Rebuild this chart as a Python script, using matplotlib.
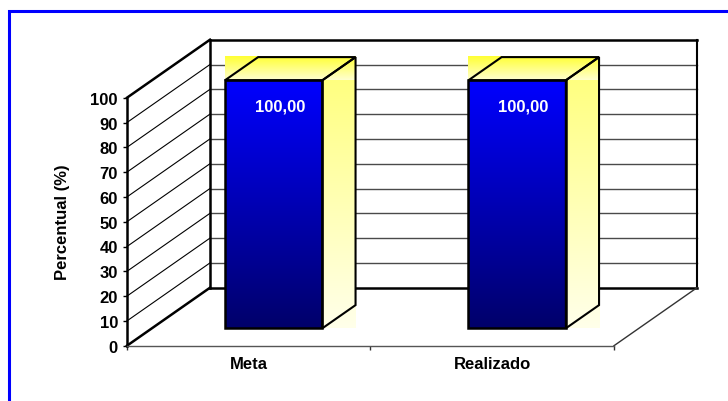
import numpy as np
import matplotlib.pyplot as plt
from matplotlib.patches import Polygon, Rectangle
from matplotlib.colors import LinearSegmentedColormap

# dados do gráfico
categorias = ['Meta', 'Realizado']
valores = [100.0, 100.0]
rotulos = ['100,00', '100,00']
escala = list(range(0, 101, 10))

plt.rcParams['font.family'] = ['Liberation Sans', 'DejaVu Sans']
FS = 12

W, H = 728, 402
fig = plt.figure(figsize=(W / 100, H / 100), dpi=100)

# área do plano frontal (pixels)
x_esq, x_dir = 127, 614
y_base, y_topo = 346.7, 98.7
ax = fig.add_axes([x_esq / W, (H - y_base) / H, (x_dir - x_esq) / W, (y_base - y_topo) / H])
ax.set_xlim(0, len(categorias))
ax.set_ylim(0, 100)
ax.patch.set_visible(False)

# profundidade do efeito 3D em unidades de dados
DX = 83 / ((x_dir - x_esq) / len(categorias))
DY = 58 / ((y_base - y_topo) / 100)
n = len(categorias)


def linha(xs, ys, cor='black', lw=1.0, z=1.5):
    ax.plot(xs, ys, color=cor, lw=lw, clip_on=False, zorder=z, solid_capstyle='projecting')


# paredes e piso
ax.add_patch(Polygon([(DX, DY), (n + DX, DY), (n + DX, 100 + DY), (DX, 100 + DY)],
                     facecolor='white', edgecolor='none', clip_on=False, zorder=1))
ax.add_patch(Polygon([(0, 0), (DX, DY), (DX, 100 + DY), (0, 100)],
                     facecolor='white', edgecolor='none', clip_on=False, zorder=1))

for v in escala[1:-1]:
    linha([DX, n + DX], [v + DY, v + DY], cor='#4a4a4a', lw=1.0, z=1.2)
    linha([0, DX], [v, v + DY], cor='black', lw=0.8, z=1.2)

linha([DX, n + DX], [100 + DY, 100 + DY], lw=1.8)
linha([DX, DX], [DY, 100 + DY], lw=1.8)
linha([n + DX, n + DX], [DY, 100 + DY], lw=1.5)
linha([DX, n + DX], [DY, DY], lw=1.8)
linha([0, DX], [100, 100 + DY], lw=1.8)
linha([0, DX], [0, DY], lw=1.8)
linha([n, n + DX], [0, DY], cor='#333333', lw=1.0)

# gradientes
grad = np.linspace(0, 1, 256).reshape(-1, 1)
cm_frente = LinearSegmentedColormap.from_list('frente', ['#00006a', '#0000ff'])
cm_topo = LinearSegmentedColormap.from_list('topo', ['#ffffd0', '#ffff33'])
cm_lado = LinearSegmentedColormap.from_list('lado', ['#ffffea', '#ffff80'])

d0, d1 = 0.3, 0.7
ex, ey = (d1 - d0) * DX, (d1 - d0) * DY
for i, (v, rot) in enumerate(zip(valores, rotulos)):
    x0 = i + 0.3 + d0 * DX
    x1 = i + 0.7 + d0 * DX
    yb = d0 * DY
    yt = v + d0 * DY

    ax.imshow(grad, extent=[x0, x1 + ex, yt, yt + ey], origin='lower', aspect='auto',
              cmap=cm_topo, interpolation='bilinear', clip_on=False, zorder=2)
    ax.imshow(grad, extent=[x1, x1 + ex, yb, yt], origin='lower', aspect='auto',
              cmap=cm_lado, interpolation='bilinear', clip_on=False, zorder=2)
    ax.imshow(grad, extent=[x0, x1, yb, yt], origin='lower', aspect='auto',
              cmap=cm_frente, interpolation='bilinear', clip_on=False, zorder=2)

    ax.add_patch(Rectangle((x0, yb), x1 - x0, yt - yb, fill=False, edgecolor='black',
                           lw=1.8, clip_on=False, zorder=3))
    ax.add_patch(Polygon([(x1, yb), (x1 + ex, yb + ey), (x1 + ex, yt + ey), (x1, yt)],
                         fill=False, edgecolor='black', lw=1.5, clip_on=False, zorder=3))
    ax.add_patch(Polygon([(x0, yt), (x0 + ex, yt + ey), (x1 + ex, yt + ey), (x1, yt)],
                         fill=False, edgecolor='black', lw=1.5, joinstyle='miter',
                         clip_on=False, zorder=3))

    ax.text((x0 + x1) / 2 + 0.025, yt - 10.4, rot, color='white', fontweight='bold',
            fontsize=FS, ha='center', va='center', zorder=4)

ax.set_xlim(0, n)
ax.set_ylim(0, 100)

# eixos
for lado in ['top', 'right']:
    ax.spines[lado].set_visible(False)
ax.spines['left'].set_linewidth(1.8)
ax.spines['bottom'].set_color('#555555')
ax.spines['bottom'].set_linewidth(1.0)

ax.set_yticks(escala)
ax.set_yticklabels([str(v) for v in escala], fontweight='bold', fontsize=FS)
ax.tick_params(axis='y', direction='out', length=3, width=1, pad=3.5)

ax.set_xticks(range(n + 1))
ax.set_xticklabels([])
ax.tick_params(axis='x', which='major', direction='out', length=3, width=1, color='#333333')
ax.set_xticks([i + 0.5 for i in range(n)], minor=True)
ax.set_xticklabels(categorias, minor=True, fontweight='bold', fontsize=FS)
ax.tick_params(axis='x', which='minor', length=0, pad=7.5)

ax.text((62 - x_esq) / (x_dir - x_esq), (y_base - 222) / (y_base - y_topo), 'Percentual (%)',
        transform=ax.transAxes, rotation=90, ha='center', va='center',
        fontweight='bold', fontsize=FS)

# moldura azul
fig.add_artist(Rectangle((8.7 / W, -0.1), 1.2, 1.1 - 12.2 / H, transform=fig.transFigure,
                         fill=False, edgecolor='#0000ff', lw=2.2))

fig.savefig('out.png', dpi=100)
